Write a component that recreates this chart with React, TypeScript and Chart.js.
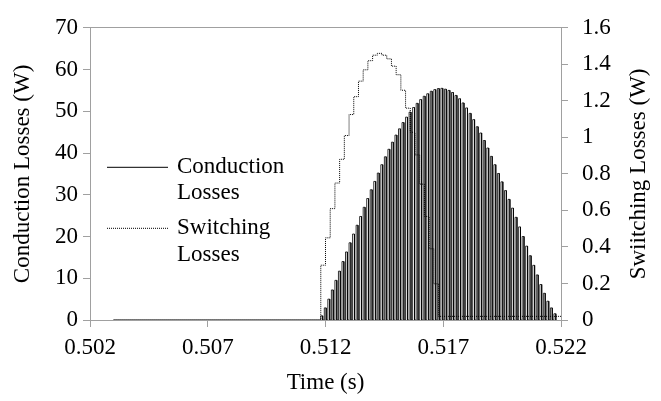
import React, { useEffect, useRef } from "react";
import { Chart, registerables } from "chart.js";

Chart.register(...registerables);

// ---- Data ----
const xTicks = [0.502, 0.507, 0.512, 0.517, 0.522];
const leftTicks = [0, 10, 20, 30, 40, 50, 60, 70];
const rightTicks = [0, 0.2, 0.4, 0.6, 0.8, 1, 1.2, 1.4, 1.6];

// Conduction losses: start of the trace and start time of each switching pulse
const conductionStart = 0.503;
const conductionEnd = 0.5218;
const pulseTimes = [
  0.5118, 0.51195, 0.5121, 0.51225, 0.5124, 0.51255, 0.5127, 0.51285, 0.513, 0.51315,
  0.5133, 0.51345, 0.5136, 0.51375, 0.5139, 0.51405, 0.5142, 0.51435, 0.5145, 0.51465,
  0.5148, 0.51495, 0.5151, 0.51525, 0.5154, 0.51555, 0.5157, 0.51585, 0.516, 0.51615,
  0.5163, 0.51645, 0.5166, 0.51675, 0.5169, 0.51705, 0.5172, 0.51735, 0.5175, 0.51765,
  0.5178, 0.51795, 0.5181, 0.51825, 0.5184, 0.51855, 0.5187, 0.51885, 0.519, 0.51915,
  0.5193, 0.51945, 0.5196, 0.51975, 0.5199, 0.52005, 0.5202, 0.52035, 0.5205, 0.52065,
  0.5208, 0.52095, 0.5211, 0.52125, 0.5214, 0.52155, 0.5217,
];
// Peak conduction loss (W) of each pulse
const conductionPeaks = [
  1.0, 2.9, 5.0, 7.2, 9.5, 11.7, 14.0, 16.3, 18.5, 20.6,
  22.7, 24.8, 27.0, 29.1, 31.2, 33.2, 35.2, 37.2, 39.1, 40.9,
  42.6, 44.3, 45.8, 47.3, 48.6, 49.8, 50.9, 51.9, 52.8, 53.6,
  54.2, 54.8, 55.2, 55.45, 55.5, 55.3, 55.0, 54.5, 53.8, 53.0,
  52.0, 50.8, 49.5, 48.0, 46.3, 44.8, 43.0, 41.2, 39.2, 37.2,
  35.1, 33.1, 31.0, 28.9, 26.8, 24.6, 22.3, 20.0, 17.7, 15.4,
  13.1, 10.8, 8.5, 6.4, 4.5, 2.9, 1.5,
];
const pulseOnTime = 0.00008;

// Switching losses (W): stepped trace, value holds from each time onwards
const switchingTimes = [
  0.503, 0.5118, 0.512, 0.5122, 0.5124, 0.5126, 0.5128, 0.513, 0.5132, 0.5134,
  0.5136, 0.5138, 0.514, 0.5142, 0.5144, 0.5146, 0.5148, 0.515, 0.5152, 0.5154,
  0.5156, 0.5158, 0.516, 0.5162, 0.5164, 0.5166, 0.5168, 0.522,
];
const switchingValues = [
  0, 0.3, 0.45, 0.61, 0.75, 0.88, 1.01, 1.125, 1.223, 1.308,
  1.37, 1.42, 1.45, 1.46, 1.45, 1.43, 1.39, 1.343, 1.258, 1.16,
  1.028, 0.904, 0.744, 0.567, 0.39, 0.198, 0.02, 0.02,
];

const seriesNames = ["Conduction Losses", "Switching Losses"];
const rightTitle = "Swiitching Losses (W)";

const FONT_FAMILY = "'Liberation Serif', 'Times New Roman', serif";
const FONT_SIZE = 23;
const GRAY = "#a0a0a0";

function buildConduction() {
  const pts: { x: number; y: number }[] = [{ x: conductionStart, y: 0 }];
  pulseTimes.forEach((t, i) => {
    const v = conductionPeaks[i];
    pts.push({ x: t, y: 0 }, { x: t, y: v }, { x: t + pulseOnTime, y: v }, { x: t + pulseOnTime, y: 0 });
  });
  pts.push({ x: conductionEnd, y: 0 });
  return pts;
}

function buildSwitching() {
  return switchingTimes.map((t, i) => ({ x: t, y: switchingValues[i] }));
}

const overlayPlugin = {
  id: "overlay",
  afterDraw(chart: any) {
    const { ctx, chartArea } = chart;
    const l = chartArea.left;
    const t = chartArea.top;
    ctx.save();
    ctx.font = `${FONT_SIZE}px ${FONT_FAMILY}`;
    ctx.fillStyle = "#000";
    ctx.textBaseline = "middle";
    ctx.textAlign = "left";
    // legend: conduction sample
    ctx.strokeStyle = "#000";
    ctx.lineWidth = 1;
    ctx.setLineDash([]);
    ctx.beginPath();
    ctx.moveTo(l + 17, t + 139.5);
    ctx.lineTo(l + 78, t + 139.5);
    ctx.stroke();
    ctx.fillText(seriesNames[0].split(" ")[0], l + 87, t + 139);
    ctx.fillText(seriesNames[0].split(" ")[1], l + 87, t + 165);
    // legend: switching sample
    ctx.setLineDash([1, 1]);
    ctx.beginPath();
    ctx.moveTo(l + 17, t + 200.5);
    ctx.lineTo(l + 78, t + 200.5);
    ctx.stroke();
    ctx.setLineDash([]);
    ctx.fillText(seriesNames[1].split(" ")[0], l + 87, t + 200);
    ctx.fillText(seriesNames[1].split(" ")[1], l + 87, t + 227);
    // right axis title, reading bottom-to-top
    ctx.translate(chart.width - 22, (chartArea.top + chartArea.bottom) / 2);
    ctx.rotate(-Math.PI / 2);
    ctx.textAlign = "center";
    ctx.fillText(rightTitle, 0, 0);
    ctx.restore();
  },
};

export default function App() {
  const canvasRef = useRef<HTMLCanvasElement | null>(null);

  useEffect(() => {
    if (!canvasRef.current) return;
    const font = { family: FONT_FAMILY, size: FONT_SIZE };
    const chart = new Chart(canvasRef.current, {
      type: "line",
      data: {
        datasets: [
          {
            label: seriesNames[1],
            data: buildSwitching(),
            yAxisID: "y2",
            borderColor: "#000",
            borderWidth: 1,
            borderDash: [1, 1],
            stepped: true,
            pointRadius: 0,
            fill: false,
          },
          {
            label: seriesNames[0],
            data: buildConduction(),
            yAxisID: "y",
            borderColor: "#000",
            borderWidth: 0.8,
            pointRadius: 0,
            tension: 0,
            fill: false,
          },
        ],
      },
      options: {
        animation: false,
        responsive: false,
        devicePixelRatio: 1,
        layout: { padding: { top: 19, left: 0, right: 0, bottom: 0 } },
        plugins: {
          legend: { display: false },
          tooltip: { enabled: false },
        },
        scales: {
          x: {
            type: "linear",
            min: 0.502,
            max: 0.522,
            afterBuildTicks: (s: any) => {
              s.ticks = xTicks.map((v) => ({ value: v }));
            },
            afterFit: (s: any) => {
              s.height = 81;
            },
            ticks: {
              callback: (v: any) => Number(v).toFixed(3),
              font,
              color: "#000",
              padding: 7,
              maxRotation: 0,
              autoSkip: false,
            },
            grid: { drawOnChartArea: false, color: GRAY, tickLength: 7 },
            border: { color: GRAY, width: 1 },
            title: { display: true, text: "Time (s)", font, color: "#000", padding: { top: 4, bottom: 4 } },
          },
          y: {
            position: "left",
            min: 0,
            max: 70,
            afterBuildTicks: (s: any) => {
              s.ticks = leftTicks.map((v) => ({ value: v }));
            },
            afterFit: (s: any) => {
              s.width = 90;
            },
            ticks: { font, color: "#000", padding: 5 },
            grid: {
              color: (c: any) => (c.tick && c.tick.value === 70 ? GRAY : "rgba(0,0,0,0)"),
              tickColor: GRAY,
              tickLength: 7,
            },
            border: { color: GRAY, width: 1 },
            title: { display: true, text: "Conduction Losses (W)", font, color: "#000", padding: { top: 9, bottom: 0 } },
          },
          y2: {
            position: "right",
            min: 0,
            max: 1.6,
            afterBuildTicks: (s: any) => {
              s.ticks = rightTicks.map((v) => ({ value: v }));
            },
            afterFit: (s: any) => {
              s.width = 100;
            },
            ticks: {
              font,
              color: "#000",
              padding: 14,
              callback: (v: any) => String(parseFloat(Number(v).toFixed(1))),
            },
            grid: { drawOnChartArea: false, color: GRAY, tickLength: 7 },
            border: { color: GRAY, width: 1 },
            title: { display: false },
          },
        },
      } as any,
      plugins: [overlayPlugin],
    });
    return () => chart.destroy();
  }, []);

  return (
    <div style={{ position: "fixed", left: 0, top: 0, width: 661, height: 401, background: "#fff" }}>
      <canvas ref={canvasRef} width={661} height={401} style={{ display: "block", width: 661, height: 401 }} />
    </div>
  );
}
